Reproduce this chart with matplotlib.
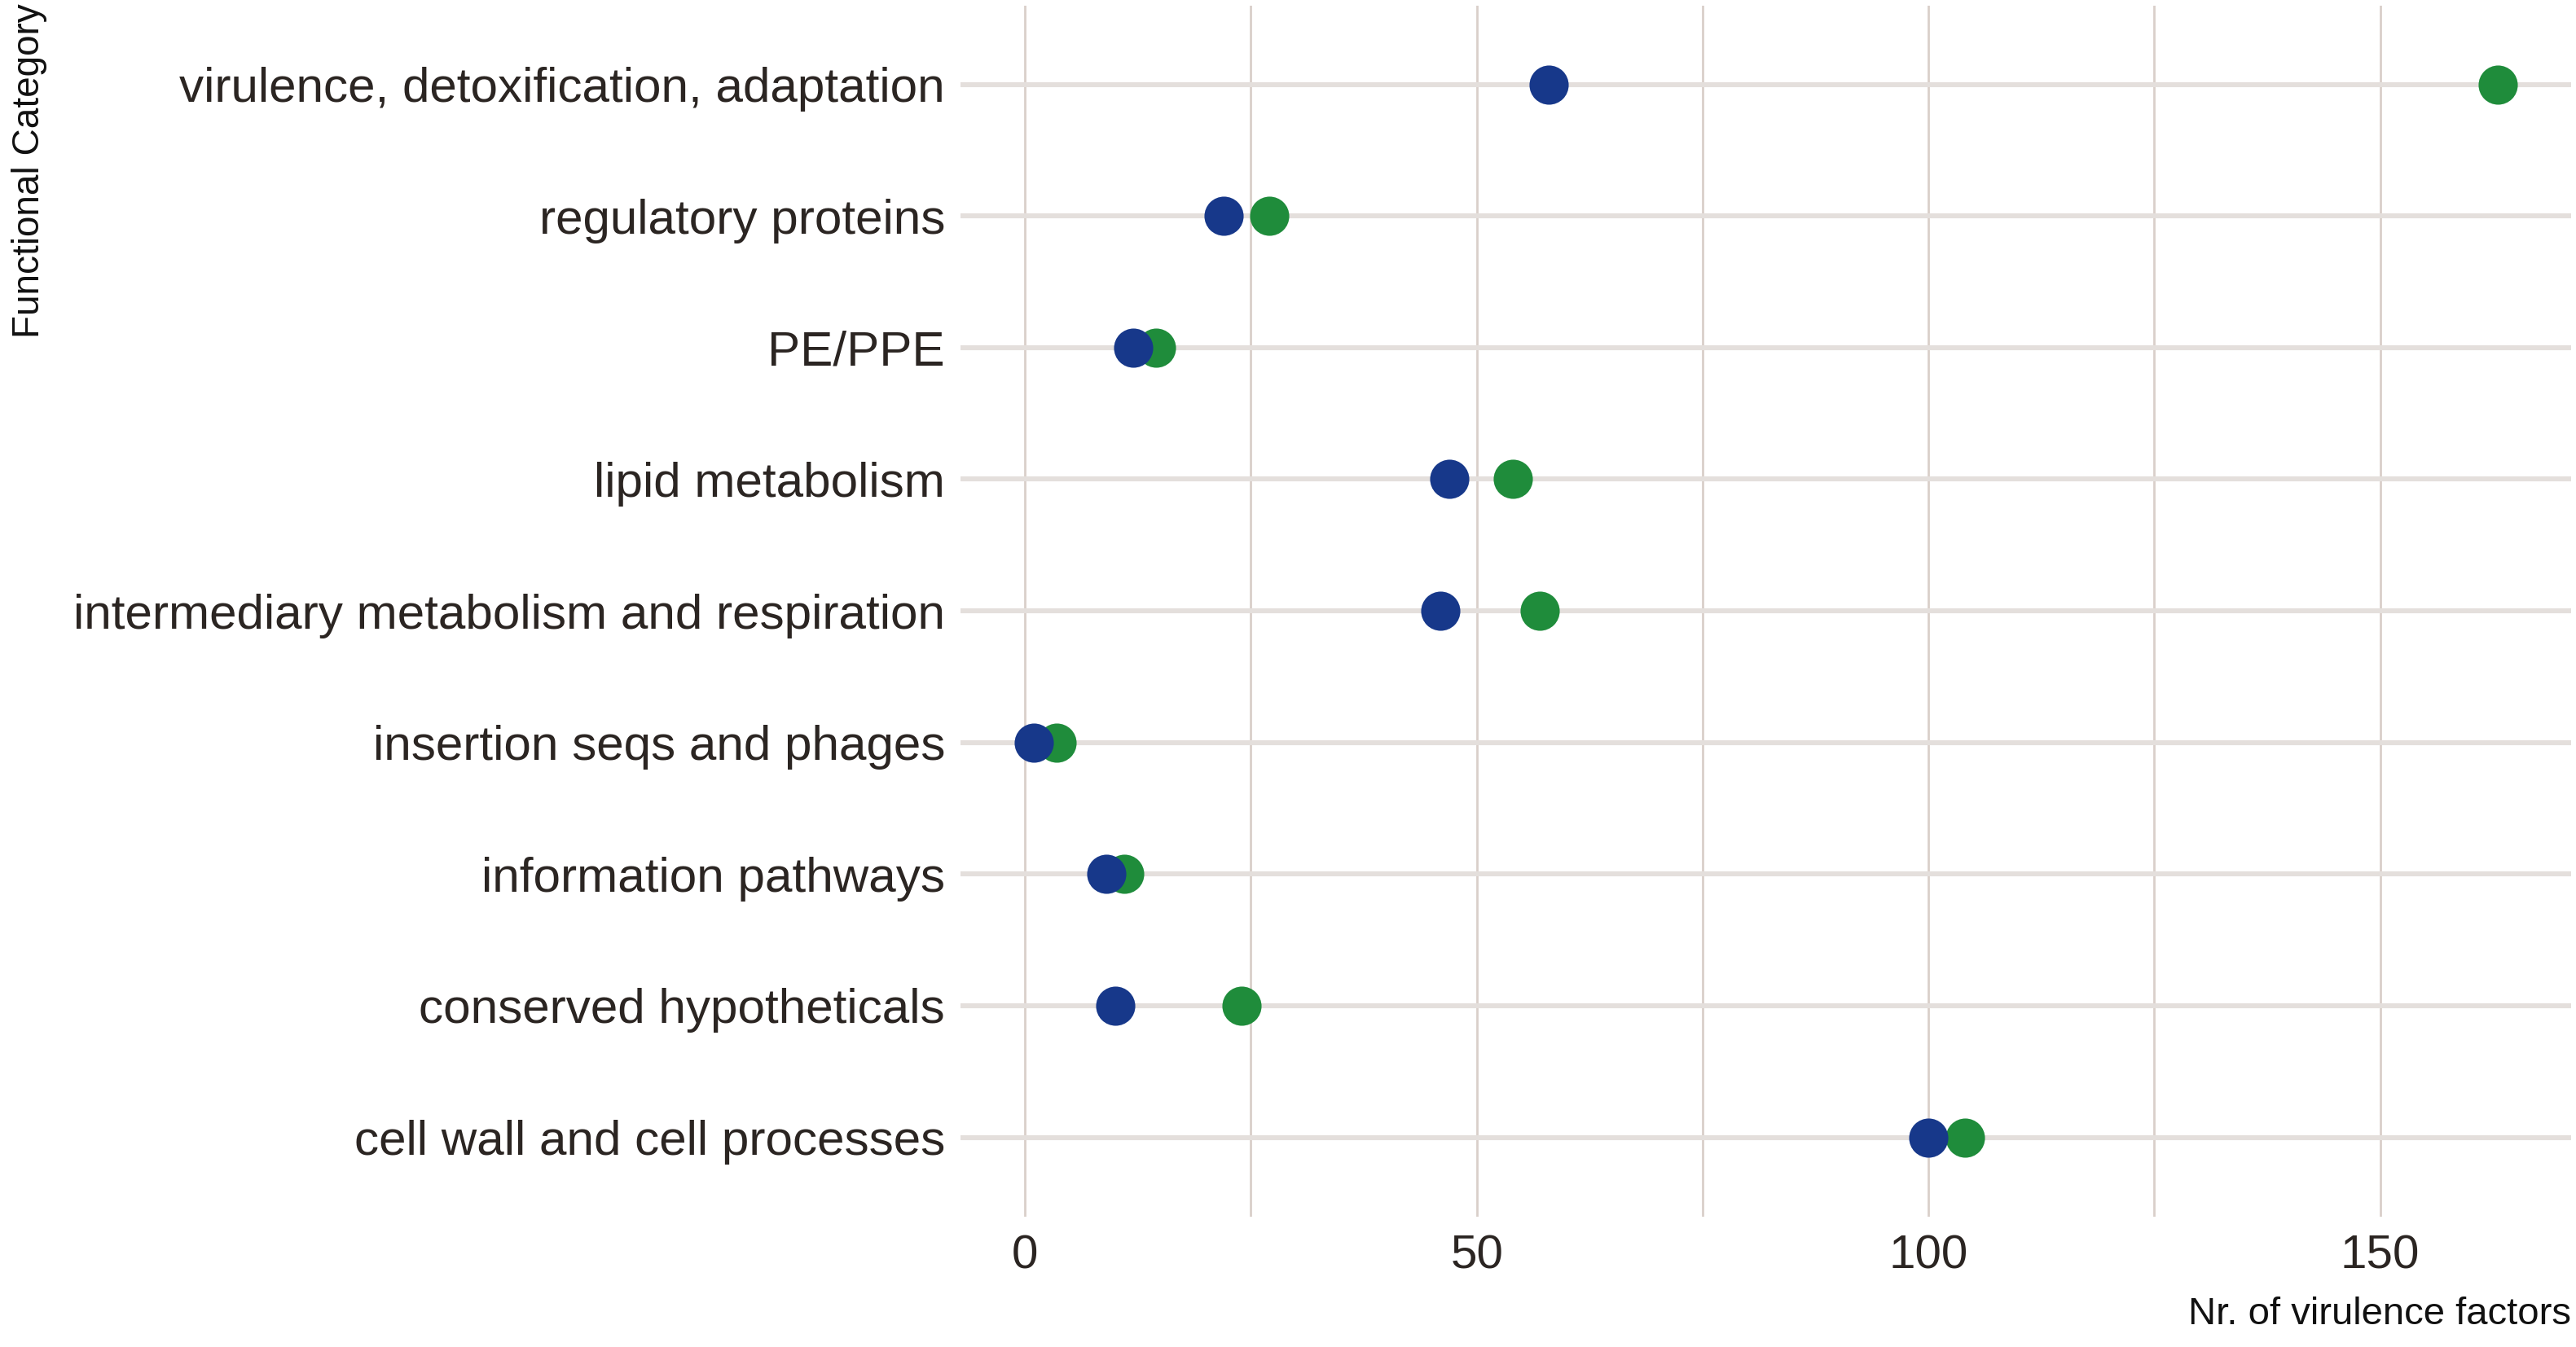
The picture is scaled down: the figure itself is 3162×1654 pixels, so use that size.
import matplotlib
matplotlib.use("Agg")
import matplotlib.pyplot as plt
import numpy as np

# categories listed from bottom to top
categories = [
    "cell wall and cell processes",
    "conserved hypotheticals",
    "information pathways",
    "insertion seqs and phages",
    "intermediary metabolism and respiration",
    "lipid metabolism",
    "PE/PPE",
    "regulatory proteins",
    "virulence, detoxification, adaptation",
]
blue_vals = [100, 10, 9, 1, 46, 47, 12, 22, 58]
green_vals = [104, 24, 11, 3.5, 57, 54, 14.5, 27, 163]
xticks = [0, 50, 100, 150]

plt.rcParams["font.family"] = ["Liberation Sans Narrow", "Liberation Sans", "DejaVu Sans"]

fig = plt.figure(figsize=(15.81, 8.27), dpi=200)
ax = fig.add_axes([0.373, 0.097, 0.625, 0.899])

y = np.arange(len(categories))
ax.scatter(green_vals, y, s=300, color="#1f8c3b", zorder=3, linewidths=0)
ax.scatter(blue_vals, y, s=300, color="#17388a", zorder=4, linewidths=0)

ax.set_yticks(y)
ax.set_yticklabels(categories)
ax.set_xticks(xticks)
ax.set_xticks([25, 75, 125], minor=True)
ax.set_ylim(-0.6, len(categories) - 0.4)
ax.set_xlim(-7.1, 171.1)

ax.grid(axis="y", color="#e4dfdc", linewidth=2.2, zorder=1)
ax.grid(axis="x", which="both", color="#d9cfca", linewidth=1.0, zorder=1)
for s in ax.spines.values():
    s.set_visible(False)
ax.tick_params(axis="both", which="both", length=0, colors="#2b2522")
ax.tick_params(axis="y", labelsize=21.7, pad=7)
ax.tick_params(axis="x", labelsize=21, pad=8)

ax.set_xlabel("Nr. of virulence factors", loc="right", fontsize=17, color="#111111", labelpad=8)
fig.text(18 / 1568, 1 - 2 / 820, "Functional Category", rotation=90, ha="center", va="top",
         fontsize=16.5, color="#111111")

fig.savefig("out.png", dpi=200)
